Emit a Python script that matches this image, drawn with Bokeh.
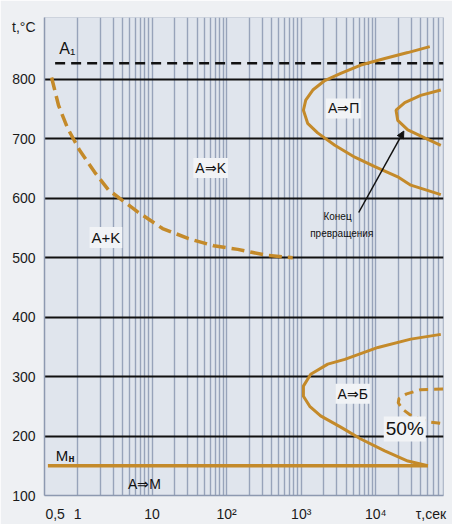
from bokeh.plotting import figure
from bokeh.models import FixedTicker, Label, Arrow, NormalHead, Range1d
from bokeh.embed import file_html
from bokeh.resources import INLINE

# ---- data (time in s, temperature in °C) ----
x_ticks = [0.5, 1, 10, 100, 1000, 10000, 55000]
x_tick_labels = ["0,5", "1", "10", "10²", "10³", "10⁴", "τ,сек"]
y_ticks = [100, 200, 300, 400, 500, 600, 700, 800, 888]
y_tick_labels = ["100", "200", "300", "400", "500", "600", "700", "800", "t,°C"]
h_lines = [200, 300, 400, 500, 600, 700, 800]

a1_t = [0.5, 81000]
a1_T = [827, 827]

ak_t = [0.448, 0.556, 0.734, 1.06, 1.69, 2.6, 6.4, 13.8, 30.9, 67, 141, 344, 769]
ak_T = [803, 756, 718, 681, 644, 614, 577, 549, 532, 520, 514, 504, 500]

ps_t = [53000, 26900, 13200, 6300, 3390, 2070, 1430, 1150, 1070, 1220, 1660, 2820,
        5230, 9700, 19700, 29500, 74500]
ps_T = [855, 845, 835, 824, 810, 798, 782, 765, 748, 726, 710, 689, 669, 653, 636, 622, 606]

pe_t = [74500, 40000, 24500, 18700, 19700, 26900, 46000, 74500]
pe_T = [782, 773, 761, 748, 731, 715, 701, 689]

b_t = [74500, 29500, 10700, 3840, 2270, 1340, 1070, 1070, 1300, 1820, 3390, 6300,
       13200, 26900, 50000]
b_T = [371, 363, 349, 329, 321, 304, 284, 267, 250, 234, 215, 195, 175, 158, 150]

b50_t = [80000, 40000, 26000, 20500, 20000, 23000, 30000, 50000, 80000]
b50_T = [279, 278, 271, 263, 256, 245, 234, 224, 221]

ms_t = [0.4, 50000]
ms_T = [150, 150]

grid_x = [m * 10 ** e for e in range(0, 5) for m in range(1, 10)]
grid_x = [g for g in grid_x if g <= 80000]

ORANGE = "#c48a2a"
FONT = "Liberation Sans"

p = figure(width=452, height=524, x_axis_type="log",
           x_range=Range1d(0.36, 81000), y_range=Range1d(100, 904),
           output_backend="svg", toolbar_location=None,
           min_border_left=44, min_border_right=9, min_border_top=17,
           min_border_bottom=27)
p.background_fill_color = "#e0e5ed"
p.border_fill_color = "#eef0f3"
p.outline_line_color = "#cdd3dd"

# grid
p.xgrid.ticker = FixedTicker(ticks=grid_x)
p.xgrid.grid_line_color = "#97a3ba"
p.xgrid.grid_line_width = 1.4
p.ygrid.ticker = FixedTicker(ticks=h_lines)
p.ygrid.grid_line_color = "#111111"
p.ygrid.grid_line_width = 2

# axes
p.xaxis.ticker = FixedTicker(ticks=x_ticks)
p.xaxis.major_label_overrides = dict(zip(x_ticks, x_tick_labels))
p.yaxis.ticker = FixedTicker(ticks=y_ticks)
p.yaxis.major_label_overrides = dict(zip(y_ticks, y_tick_labels))
for ax in (p.xaxis[0], p.yaxis[0]):
    ax.major_tick_line_color = None
    ax.minor_tick_line_color = None
    ax.axis_line_color = "#8d99b0"
    ax.axis_line_width = 1.5
    ax.major_label_text_font = FONT
    ax.major_label_text_font_size = "14px"
    ax.major_label_text_color = "#1a1a1a"
p.xaxis.major_label_standoff = 4
p.yaxis.major_label_standoff = 3

# curves
p.line(a1_t, a1_T, line_color="#111111", line_width=2.5, line_dash="10 6")
p.line(ak_t, ak_T, line_color=ORANGE, line_width=3.5, line_dash="13 6")
p.line(ps_t, ps_T, line_color=ORANGE, line_width=3)
p.line(pe_t, pe_T, line_color=ORANGE, line_width=3)
p.line(b_t, b_T, line_color=ORANGE, line_width=3)
p.line(b50_t, b50_T, line_color=ORANGE, line_width=3, line_dash="9 6")
p.line(ms_t, ms_T, line_color=ORANGE, line_width=3.5)

# arrow
p.add_layout(Arrow(end=NormalHead(size=7, fill_color="#111111", line_color="#111111"),
                   x_start=5900, y_start=576, x_end=23800, y_end=713,
                   line_color="#111111", line_width=1.5))

BG = "#f1f3f6"

def lab(x, y, text, size="14px", bg=None, style="normal"):
    kw = dict(x=x, y=y, text=text, text_font=FONT, text_font_size=size,
              text_align="center", text_baseline="middle", text_color="#111111",
              text_font_style=style)
    if bg:
        kw.update(background_fill_color=bg, padding=2)
    p.add_layout(Label(**kw))

lab(0.73, 852, "A₁", "16px")
lab(61, 651, "A⇒K", "14px", BG)
lab(3700, 751, "A⇒П", "14px", BG)
lab(2.4, 534, "A+K", "15px", BG)
lab(4900, 271, "A⇒Б", "14px", BG)
lab(3070, 569, "Конец", "10px")
lab(3500, 540, "превращения", "10px")
lab(24500, 212, "50%", "19px", BG)
lab(7.9, 120, "A⇒M", "14px")
lab(0.62, 168, "M", "15px")
lab(0.83, 163, "н", "10px", style="bold")

open("out.html", "w").write(file_html(p, INLINE))
